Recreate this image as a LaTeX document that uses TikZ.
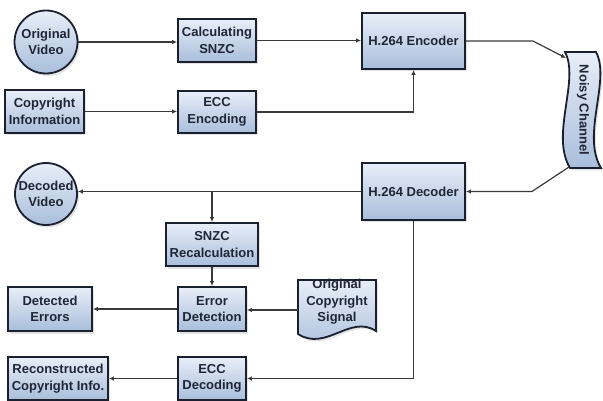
\documentclass[tikz,border=0pt]{standalone}
\usepackage{fontspec}
\setmainfont{Liberation Sans}
\usetikzlibrary{arrows.meta,shadows,calc}
\definecolor{bordc}{HTML}{1B2030}
\definecolor{txtc}{HTML}{1F2638}
\definecolor{topc}{HTML}{E8EEF8}
\definecolor{botc}{HTML}{A9BEDB}
\definecolor{linec}{HTML}{3A3A3A}
\begin{document}
\begin{tikzpicture}[x=1pt,y=-1pt,
  lbl/.style={font=\fontsize{13}{16.5}\selectfont\bfseries, text=txtc, align=center},
  blk/.style={lbl, draw=bordc, line width=1.8pt, top color=topc, bottom color=botc, inner sep=0pt,
    drop shadow={opacity=0.22, shadow xshift=2pt, shadow yshift=-2.5pt}},
  shp/.style={draw=bordc, line width=1.8pt, top color=topc, bottom color=botc,
    drop shadow={opacity=0.22, shadow xshift=2pt, shadow yshift=-2.5pt}},
  rbox/.style={blk, rectangle},
  cbox/.style={blk, circle},
  arr/.style={draw=linec, line width=1.2pt, -{Latex[length=5pt,width=4.5pt]}}]
\useasboundingbox (0,0) rectangle (603,401);

% encoder side
\node[cbox, minimum size=63pt] (ov) at (46,42) {Original\\Video};
\node[rbox, minimum width=78pt, minimum height=43pt] (cs) at (217,40.5) {Calculating\\SNZC};
\node[rbox, minimum width=79pt, minimum height=43pt] (ci) at (44.5,111.5) {Copyright\\Information};
\node[rbox, minimum width=78pt, minimum height=42pt] (ee) at (217,112) {ECC\\Encoding};
\node[rbox, minimum width=103pt, minimum height=56pt] (enc) at (413.5,41) {H.264 Encoder};

% noisy channel
\path[shp] (565,52) -- (596,52) .. controls (611,80) and (581,135) .. (601,168)
  -- (570,168) .. controls (550,135) and (580,80) .. (565,52) -- cycle;
\node[lbl, rotate=-90] (nc) at (583,110) {Noisy Channel};
\coordinate (nctl) at (566,58);
\coordinate (ncbl) at (569,167);

% decoder side
\node[rbox, minimum width=103pt, minimum height=57pt] (dec) at (413.5,191.5) {H.264 Decoder};
\node[cbox, minimum size=62pt] (dv) at (46,194) {Decoded\\Video};
\node[rbox, minimum width=92pt, minimum height=43pt] (sr) at (212,244.5) {SNZC\\Recalculation};
\node[rbox, minimum width=68pt, minimum height=44pt] (ed) at (212,309) {Error\\Detection};
\node[rbox, minimum width=84pt, minimum height=44pt] (de) at (50,309) {Detected\\Errors};
\node[rbox, minimum width=68pt, minimum height=43pt] (ecd) at (212,378.5) {ECC\\Decoding};
\node[rbox, minimum width=100pt, minimum height=43pt] (rci) at (58,378.5) {Reconstructed\\Copyright Info.};

% original copyright signal (document shape)
\path[shp] (298,280) -- (376,280) -- (376,331)
  .. controls (350,314) and (326,352) .. (298,334) -- cycle;
\node[lbl] (ocs) at (337,302) {Original\\Copyright\\Signal};
\coordinate (ocsw) at (298,310);

% connectors
\draw[arr] (ov.east) -- (ov.east -| cs.west);
\draw[arr] (cs.east) -- (cs.east -| enc.west);
\draw[arr] (ci.east) -- (ci.east -| ee.west);
\draw[arr] (ee.east) -| (enc.south);
\draw[arr] (enc.east) -- ++(67,0) -- (nctl);
\coordinate (j2) at (532,191.5);
\draw[arr] (ncbl) -- (j2) -- (dec.east);
\draw[arr] (dec.west) -- (dec.west -| dv.east);
\draw[arr] (sr.north |- dec.west) -- (sr.north);
\draw[arr] (sr.south) -- (ed.north);
\draw[arr] (ed.west) -- (ed.west -| de.east);
\draw[arr] (ocsw) -- (ocsw -| ed.east);
\draw[arr] (dec.south) |- (ecd.east);
\draw[arr] (ecd.west) -- (ecd.west -| rci.east);
\end{tikzpicture}
\end{document}
